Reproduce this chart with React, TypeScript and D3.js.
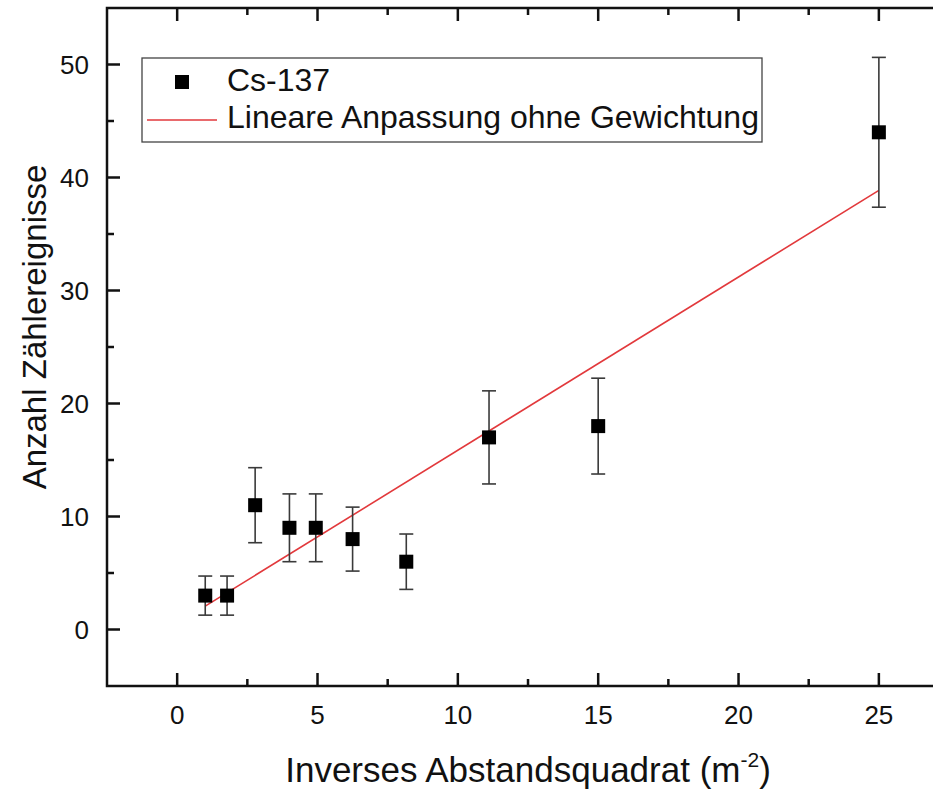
import React from "react";
import * as d3 from "d3";

const xValues = [1, 1.778, 2.778, 4, 4.938, 6.25, 8.163, 11.111, 15, 25];
const yValues = [3, 3, 11, 9, 9, 8, 6, 17, 18, 44];
const yErrors = [1.73, 1.73, 3.32, 3, 3, 2.83, 2.45, 4.12, 4.24, 6.63];
const xTicks = [0, 5, 10, 15, 20, 25];
const xMinorTicks = [2.5, 7.5, 12.5, 17.5, 22.5];
const yTicks = [0, 10, 20, 30, 40, 50];
const yMinorTicks = [5, 15, 25, 35, 45];
const seriesName = "Cs-137";
const fitName = "Lineare Anpassung ohne Gewichtung";
const xTitle = "Inverses Abstandsquadrat (m";
const yTitle = "Anzahl Zählereignisse";

const W = 933;
const H = 792;
const left = 107;
const right = 935;
const top = 8;
const bottom = 686;
const FONT = "'Liberation Sans', Arial, Helvetica, sans-serif";

export default function App() {
  const x = d3.scaleLinear().domain([-2.5, 27]).range([left, right]);
  const y = d3.scaleLinear().domain([-5, 55]).range([bottom, top]);

  // unweighted linear regression
  const mx = d3.mean(xValues) as number;
  const my = d3.mean(yValues) as number;
  const sxy = d3.sum(xValues, (v, i) => (v - mx) * (yValues[i] - my));
  const sxx = d3.sum(xValues, (v) => (v - mx) * (v - mx));
  const slope = sxy / sxx;
  const intercept = my - slope * mx;
  const xMin = d3.min(xValues) as number;
  const xMax = d3.max(xValues) as number;
  const fitLine = d3.line<number>()
    .x((v) => x(v))
    .y((v) => y(intercept + slope * v))([xMin, xMax]);

  const ms = 14;
  const cap = 7;
  const axisColor = "#111";
  const errColor = "#3a3a3a";
  const red = "#e2393c";

  return (
    <svg width={W} height={H} style={{ position: "absolute", left: 0, top: 0, background: "#fff" }} fontFamily={FONT}>
      <rect x={0} y={0} width={W} height={H} fill="#fff" />
      {/* fit line */}
      <path d={fitLine || ""} stroke={red} strokeWidth={1.6} fill="none" />
      {/* error bars */}
      {xValues.map((xv, i) => {
        const cx = x(xv);
        const y1 = y(yValues[i] + yErrors[i]);
        const y2 = y(yValues[i] - yErrors[i]);
        return (
          <g key={"e" + i} stroke={errColor} strokeWidth={1.6}>
            <line x1={cx} x2={cx} y1={y1} y2={y2} />
            <line x1={cx - cap} x2={cx + cap} y1={y1} y2={y1} />
            <line x1={cx - cap} x2={cx + cap} y1={y2} y2={y2} />
          </g>
        );
      })}
      {/* markers */}
      {xValues.map((xv, i) => (
        <rect key={"m" + i} x={x(xv) - ms / 2} y={y(yValues[i]) - ms / 2} width={ms} height={ms} fill="#000" />
      ))}
      {/* frame */}
      <rect x={left} y={top} width={right - left} height={bottom - top} fill="none" stroke={axisColor} strokeWidth={2.5} />
      {/* x ticks bottom & top */}
      {xTicks.map((t) => (
        <g key={"xt" + t} stroke={axisColor} strokeWidth={2.5}>
          <line x1={x(t)} x2={x(t)} y1={bottom} y2={bottom - 13} />
          <line x1={x(t)} x2={x(t)} y1={top} y2={top + 13} />
        </g>
      ))}
      {xMinorTicks.map((t) => (
        <g key={"xm" + t} stroke={axisColor} strokeWidth={2.5}>
          <line x1={x(t)} x2={x(t)} y1={bottom} y2={bottom - 7} />
          <line x1={x(t)} x2={x(t)} y1={top} y2={top + 7} />
        </g>
      ))}
      {yTicks.map((t) => (
        <line key={"yt" + t} x1={left} x2={left + 13} y1={y(t)} y2={y(t)} stroke={axisColor} strokeWidth={2.5} />
      ))}
      {yMinorTicks.map((t) => (
        <line key={"ym" + t} x1={left} x2={left + 7} y1={y(t)} y2={y(t)} stroke={axisColor} strokeWidth={2.5} />
      ))}
      {/* tick labels */}
      {xTicks.map((t) => (
        <text key={"xl" + t} x={x(t)} y={724} textAnchor="middle" fontSize={26} fill="#111">{t}</text>
      ))}
      {yTicks.map((t) => (
        <text key={"yl" + t} x={89} y={y(t) + 9} textAnchor="end" fontSize={26} fill="#111">{t}</text>
      ))}
      {/* axis titles */}
      <text x={528} y={782} textAnchor="middle" fontSize={35} fill="#111">
        {xTitle}
        <tspan fontSize={21} dy={-15}>-2</tspan>
        <tspan dy={15}>)</tspan>
      </text>
      <text transform={`translate(46, 327) rotate(-90)`} textAnchor="middle" fontSize={33} fill="#111">{yTitle}</text>
      {/* legend */}
      <rect x={142} y={58} width={620} height={84} fill="#fff" stroke="#444" strokeWidth={1.3} />
      <rect x={182 - 7} y={82 - 7} width={14} height={14} fill="#000" />
      <text x={227} y={91} fontSize={32} fill="#111">{seriesName}</text>
      <line x1={147} x2={217} y1={120} y2={120} stroke={red} strokeWidth={1.6} />
      <text x={227} y={128} fontSize={32} fill="#111">{fitName}</text>
    </svg>
  );
}
